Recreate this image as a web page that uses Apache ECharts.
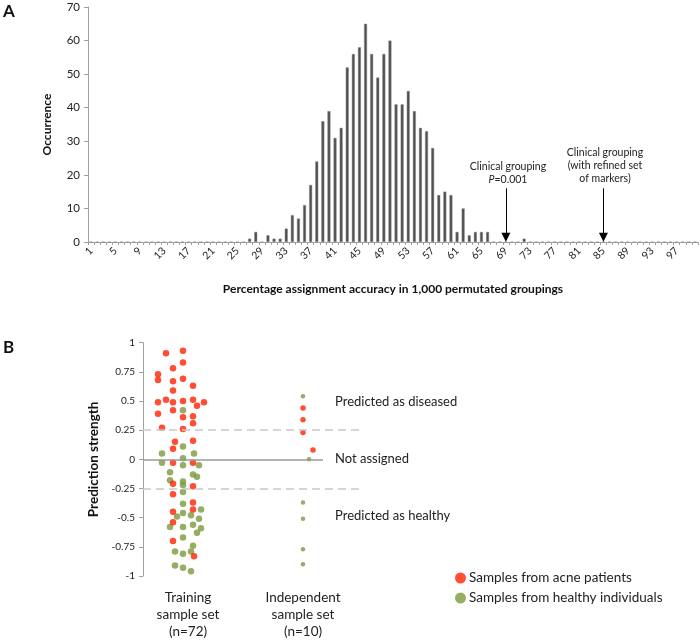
<!DOCTYPE html>
<html>
<head>
<meta charset="utf-8">
<script src="https://cdn.jsdelivr.net/npm/echarts@6/dist/echarts.min.js"></script>
<style>
html,body{margin:0;padding:0;background:#fff;}
#chart{width:700px;height:640px;}
</style>
</head>
<body>
<div id="chart"></div>
<script>
// ---------- Panel A data ----------
const histCategories = [];
for (let i = 1; i <= 100; i++) histCategories.push(String(i));
const histValues = [
  0,0,0,0,0,0,0,0,0,0,
  0,0,0,0,0,0,0,0,0,0,
  0,0,0,0,0,0,1,3,0,2,
  1,1,4,8,7,11,17,24,36,39,
  31,34,52,56,58,65,56,49,56,60,
  41,41,45,39,34,33,28,14,15,14,
  3,10,2,3,3,3,0,0,0,0,
  0,1,0,0,0,0,0,0,0,0,
  0,0,0,0,0,0,0,0,0,0,
  0,0,0,0,0,0,0,0,0,0
];
const histYTicks = [0, 70, 10];
const arrowCategories = ['69', '85'];

// ---------- Panel B data ([jitter position, prediction strength]) ----------
const groupLabels = ['Training\nsample set\n(n=72)', 'Independent\nsample set\n(n=10)'];
const trainingAcne = [
  [-1.7,0.91],[0,0.93],[0,0.83],[-2.5,0.73],[-1.0,0.78],[-2.5,0.68],[-1.0,0.67],[0,0.69],
  [1.0,0.63],[-1.0,0.59],[-2.5,0.49],[-1.7,0.51],[-1.0,0.49],[0,0.50],[1.0,0.51],[1.4,0.46],
  [2.1,0.49],[-1.0,0.42],[-2.5,0.39],[0,0.36],[1.0,0.37],[1.0,0.31],[-2.1,0.27],[0,0.26],
  [1.0,0.16],[-0.8,0.15],[-1.0,0.09],[-1.0,-0.03],[1.0,-0.03],[-1.0,-0.21],[1.0,-0.23],
  [-1.0,-0.30],[1.0,-0.37],[1.0,-0.43],[-1.0,-0.45],[-1.0,-0.54],[-1.0,-0.70],[1.1,-0.83]
];
const trainingHealthy = [
  [0,0.42],[0,0.11],[-2.1,0.05],[1.1,0.05],[0,0.01],[-2.1,-0.03],[0,-0.05],[1.6,-0.05],
  [-1.3,-0.11],[1.0,-0.13],[1.4,-0.15],[-1.3,-0.18],[0,-0.19],[0,-0.22],[0,-0.28],[0,-0.38],
  [1.8,-0.43],[0,-0.46],[0.8,-0.48],[-0.6,-0.49],[1.6,-0.51],[-1.3,-0.58],[0,-0.58],[1.0,-0.56],
  [1.8,-0.59],[1.4,-0.63],[0,-0.67],[1.0,-0.74],[-0.8,-0.79],[0,-0.81],[0.8,-0.79],
  [-0.8,-0.91],[0,-0.93],[0.8,-0.96]
];
const independentAcne = [[12,0.44],[12,0.34],[12,0.23],[13,0.08]];
const independentHealthy = [[12,0.54],[12.6,0.00],[12,-0.37],[12,-0.51],[12,-0.77],[12,-0.90]];
const thresholds = [0.25, -0.25];
const regionLabels = ['Predicted as diseased', 'Not assigned', 'Predicted as healthy'];
const seriesNames = ['Samples from acne patients', 'Samples from healthy individuals'];

const RED = '#ff2200';
const GREEN = '#7a9a3c';
const FONT = 'Lato, "Open Sans", sans-serif';

const chart = echarts.init(document.getElementById('chart'), null, {renderer: 'canvas'});

const option = {
  backgroundColor: '#fff',
  animation: false,
  textStyle: {fontFamily: FONT, color: '#222'},
  legend: {
    data: seriesNames,
    orient: 'vertical',
    left: 450,
    top: 566,
    itemGap: 6,
    itemWidth: 11,
    itemHeight: 11,
    icon: 'circle',
    textStyle: {fontFamily: FONT, fontSize: 13.5, color: '#222', padding: [0,0,0,-2]}
  },
  grid: [
    {left: 88, top: 7, width: 610, height: 235},
    {left: 143, top: 342.7, width: 220, height: 233.3}
  ],
  xAxis: [
    {
      gridIndex: 0, type: 'category', data: histCategories, boundaryGap: true,
      name: 'Percentage assignment accuracy in 1,000 permutated groupings',
      nameLocation: 'middle', nameGap: 41,
      nameTextStyle: {fontFamily: FONT, fontWeight: 'bold', fontSize: 12, color: '#111'},
      axisLine: {lineStyle: {color: '#a0a0a0', width: 1}},
      axisTick: {show: true, interval: 0, length: 3, lineStyle: {color: '#a0a0a0'}},
      axisLabel: {interval: 3, rotate: 45, fontSize: 10.5, color: '#222', margin: 7, fontFamily: FONT},
      splitLine: {show: false}
    },
    {
      gridIndex: 1, type: 'value', min: -4, max: 18, show: false
    }
  ],
  yAxis: [
    {
      gridIndex: 0, type: 'value', min: histYTicks[0], max: histYTicks[1], interval: histYTicks[2],
      name: 'Occurrence', nameLocation: 'middle', nameGap: 35, nameRotate: 90,
      nameTextStyle: {fontFamily: FONT, fontWeight: 'bold', fontSize: 12, color: '#111'},
      axisLine: {show: true, onZero: false, lineStyle: {color: '#a0a0a0'}},
      axisTick: {show: true, length: 4, lineStyle: {color: '#a0a0a0'}},
      axisLabel: {fontSize: 11.5, color: '#222', margin: 8, fontFamily: FONT},
      splitLine: {show: false}
    },
    {
      gridIndex: 1, type: 'value', min: -1, max: 1, interval: 0.25,
      name: 'Prediction strength', nameLocation: 'middle', nameGap: 42, nameRotate: 90,
      nameTextStyle: {fontFamily: FONT, fontWeight: 'bold', fontSize: 13.5, color: '#111'},
      axisLine: {show: true, onZero: false, lineStyle: {color: '#a0a0a0'}},
      axisTick: {show: true, length: 4, lineStyle: {color: '#a0a0a0'}},
      axisLabel: {fontSize: 10, color: '#222', margin: 8, fontFamily: FONT},
      splitLine: {show: false}
    }
  ],
  series: [
    {
      type: 'bar', xAxisIndex: 0, yAxisIndex: 0, data: histValues,
      barWidth: 3,
      itemStyle: {color: '#505050', borderColor: '#8a8a8a', borderWidth: 0.5},
      markLine: {
        silent: true,
        symbol: ['none', 'triangle'],
        symbolSize: 9,
        lineStyle: {color: '#000', width: 1, type: 'solid'},
        label: {show: false},
        data: arrowCategories.map(c => [{coord: [c, 16]}, {coord: [c, 1.4]}])
      }
    },
    {
      name: seriesNames[1], type: 'scatter', xAxisIndex: 1, yAxisIndex: 1,
      data: trainingHealthy, symbolSize: 6.5, itemStyle: {color: GREEN},
      markLine: {
        silent: true, symbol: 'none', label: {show: false},
        data: [
          [{coord: [-4, 0], lineStyle: {color: '#9a9a9a', width: 1.5, type: 'solid'}}, {coord: [14, 0]}],
          [{coord: [-4, thresholds[0]], lineStyle: {color: '#c8c8c8', width: 1.5, type: [8, 5]}}, {coord: [18, thresholds[0]]}],
          [{coord: [-4, thresholds[1]], lineStyle: {color: '#c8c8c8', width: 1.5, type: [8, 5]}}, {coord: [18, thresholds[1]]}]
        ]
      },
      z: 3
    },
    {
      name: seriesNames[0], type: 'scatter', xAxisIndex: 1, yAxisIndex: 1,
      data: trainingAcne, symbolSize: 6.5, itemStyle: {color: RED}, z: 4
    },
    {
      name: seriesNames[1], type: 'scatter', xAxisIndex: 1, yAxisIndex: 1,
      data: independentHealthy, symbolSize: 4.5, itemStyle: {color: GREEN}, z: 3
    },
    {
      name: seriesNames[0], type: 'scatter', xAxisIndex: 1, yAxisIndex: 1,
      data: independentAcne, symbolSize: 5.5, itemStyle: {color: RED}, z: 4
    }
  ],
  graphic: [
    {type: 'text', left: 3, top: 3, style: {text: 'A', font: 'bold 17px ' + FONT, fill: '#111'}},
    {type: 'text', left: 3, top: 339, style: {text: 'B', font: 'bold 17px ' + FONT, fill: '#111'}},
    {type: 'text', x: 508, y: 160, style: {
      text: 'Clinical grouping\n{i|P}=0.001', font: '10.5px ' + FONT, fill: '#222',
      align: 'center', verticalAlign: 'top', lineHeight: 13,
      rich: {i: {fontStyle: 'italic', fontFamily: FONT, fontSize: 10.5, lineHeight: 13}}
    }},
    {type: 'text', x: 605, y: 146, style: {
      text: 'Clinical grouping\n(with refined set\nof markers)', font: '10.5px ' + FONT, fill: '#222',
      align: 'center', verticalAlign: 'top', lineHeight: 13
    }},
    {type: 'text', x: 335, y: 402, style: {text: regionLabels[0], font: '13px ' + FONT, fill: '#222', verticalAlign: 'middle'}},
    {type: 'text', x: 335, y: 458.5, style: {text: regionLabels[1], font: '13px ' + FONT, fill: '#222', verticalAlign: 'middle'}},
    {type: 'text', x: 335, y: 515.5, style: {text: regionLabels[2], font: '13px ' + FONT, fill: '#222', verticalAlign: 'middle'}},
    {type: 'text', x: 188, y: 589, style: {text: groupLabels[0], font: '13.5px ' + FONT, fill: '#222', align: 'center', verticalAlign: 'top', lineHeight: 17}},
    {type: 'text', x: 303, y: 589, style: {text: groupLabels[1], font: '13.5px ' + FONT, fill: '#222', align: 'center', verticalAlign: 'top', lineHeight: 17}}
  ]
};
chart.setOption(option);
</script>
</body>
</html>
